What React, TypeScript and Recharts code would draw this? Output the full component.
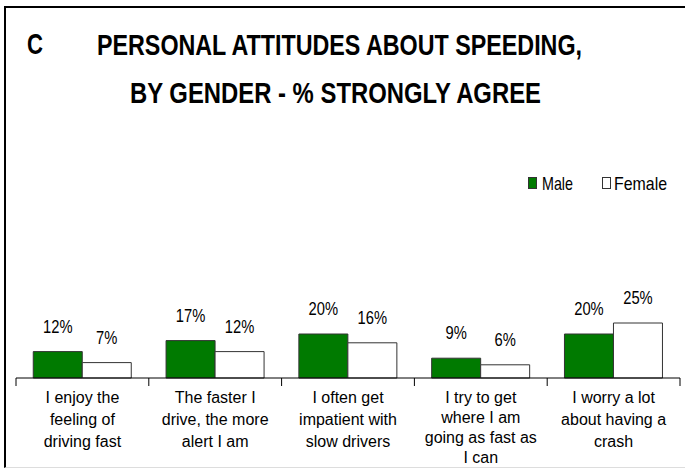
import React from 'react';
import { BarChart, Bar, XAxis, YAxis, Legend, LabelList } from 'recharts';

const categories = [
  'I enjoy the feeling of driving fast',
  'The faster I drive, the more alert I am',
  'I often get impatient with slow drivers',
  'I try to get where I am going as fast as I can',
  'I worry a lot about having a crash',
];
const tickLines = [
  ['I enjoy the', 'feeling of', 'driving fast'],
  ['The faster I', 'drive, the more', 'alert I am'],
  ['I often get', 'impatient with', 'slow drivers'],
  ['I try to get', 'where I am', 'going as fast as', 'I can'],
  ['I worry a lot', 'about having a', 'crash'],
];
const male = [12, 17, 20, 9, 20];
const female = [7, 12, 16, 6, 25];

const W = 685;
const H = 468;
const margin = { top: 158, right: 5, bottom: 0, left: 16 };
const band = (W - margin.left - margin.right) / categories.length;
const font = '"Liberation Sans", Arial, sans-serif';
// no narrow face installed, so squeeze the regular one
const squeeze = 0.82;

const data = categories.map((name, i) => ({ name, male: male[i], female: female[i] }));

function CategoryTick(props: any) {
  const { x, y, index } = props;
  const lines = tickLines[index] ?? [];
  const step = lines.length > 3 ? 20 : 22;
  const last = index === categories.length - 1;
  return (
    <g>
      <line x1={x - band / 2} x2={x - band / 2} y1={y} y2={y + 8} stroke="#000" />
      {last && <line x1={x + band / 2} x2={x + band / 2} y1={y} y2={y + 8} stroke="#000" />}
      <text textAnchor="middle" fontFamily={font} fontSize={16} fill="#000">
        {lines.map((l, k) => (
          <tspan key={k} x={x} y={y + 25 + k * step}>
            {l}
          </tspan>
        ))}
      </text>
    </g>
  );
}

function ValueLabel(props: any) {
  const { x, y, width, value } = props;
  const cx = x + width / 2;
  return (
    <text
      transform={`translate(${cx},${y - 19}) scale(${squeeze},1)`}
      textAnchor="middle"
      fontFamily={font}
      fontSize={18}
      fill="#000"
    >
      {`${value}%`}
    </text>
  );
}

function LegendBox() {
  const items = [
    { label: 'Male', fill: '#007a00', x: 0, tx: 14, w: 31 },
    { label: 'Female', fill: '#ffffff', x: 74, tx: 12, w: 53 },
  ];
  return (
    <svg width={150} height={24}>
      {items.map((it) => (
        <g key={it.label}>
          <rect x={it.x + 0.5} y={4.5} width={8} height={11} fill={it.fill} stroke="#333" />
          <text
            x={it.x + it.tx}
            y={17}
            fontFamily={font}
            fontSize={19}
            fill="#000"
            textLength={it.w}
            lengthAdjust="spacingAndGlyphs"
          >
            {it.label}
          </text>
        </g>
      ))}
    </svg>
  );
}

export default function App() {
  return (
    <div style={{ position: 'absolute', left: 0, top: 0, width: W, height: H, background: '#fff' }}>
      <div
        style={{
          position: 'absolute',
          left: 4,
          top: 6,
          width: W - 4,
          height: 459,
          borderLeft: '2px solid #000',
          borderTop: '2px solid #000',
          borderBottom: '1px solid #ddd',
        }}
      />
      <BarChart
        width={W}
        height={H}
        data={data}
        margin={margin}
        barCategoryGap="13%"
        barGap={0}
        style={{ position: 'absolute', left: 0, top: 0 }}
      >
        <XAxis
          dataKey="name"
          height={90}
          interval={0}
          tickSize={0}
          tickMargin={0}
          tickLine={false}
          axisLine={{ stroke: '#000' }}
          tick={<CategoryTick />}
        />
        <YAxis hide domain={[0, 100]} width={0} />
        <Legend
          layout="horizontal"
          verticalAlign="middle"
          align="center"
          wrapperStyle={{ top: 173, left: 528, width: 'auto' }}
          content={<LegendBox />}
        />
        <Bar dataKey="male" name="Male" fill="#007a00" stroke="#333" isAnimationActive={false}>
          <LabelList dataKey="male" content={<ValueLabel />} />
        </Bar>
        <Bar dataKey="female" name="Female" fill="#ffffff" stroke="#333" isAnimationActive={false}>
          <LabelList dataKey="female" content={<ValueLabel />} />
        </Bar>
      </BarChart>
      <svg
        width={W}
        height={H}
        style={{ position: 'absolute', left: 0, top: 0, pointerEvents: 'none' }}
      >
        <g fontFamily={font} fontWeight="bold" fontSize={30} fill="#000">
          <text x={27} y={54} textLength={16} lengthAdjust="spacingAndGlyphs">C</text>
          <text x={97} y={55} textLength={485} lengthAdjust="spacingAndGlyphs">
            PERSONAL ATTITUDES ABOUT SPEEDING,
          </text>
          <text x={130} y={103} textLength={411} lengthAdjust="spacingAndGlyphs">
            BY GENDER - % STRONGLY AGREE
          </text>
        </g>
      </svg>
    </div>
  );
}
